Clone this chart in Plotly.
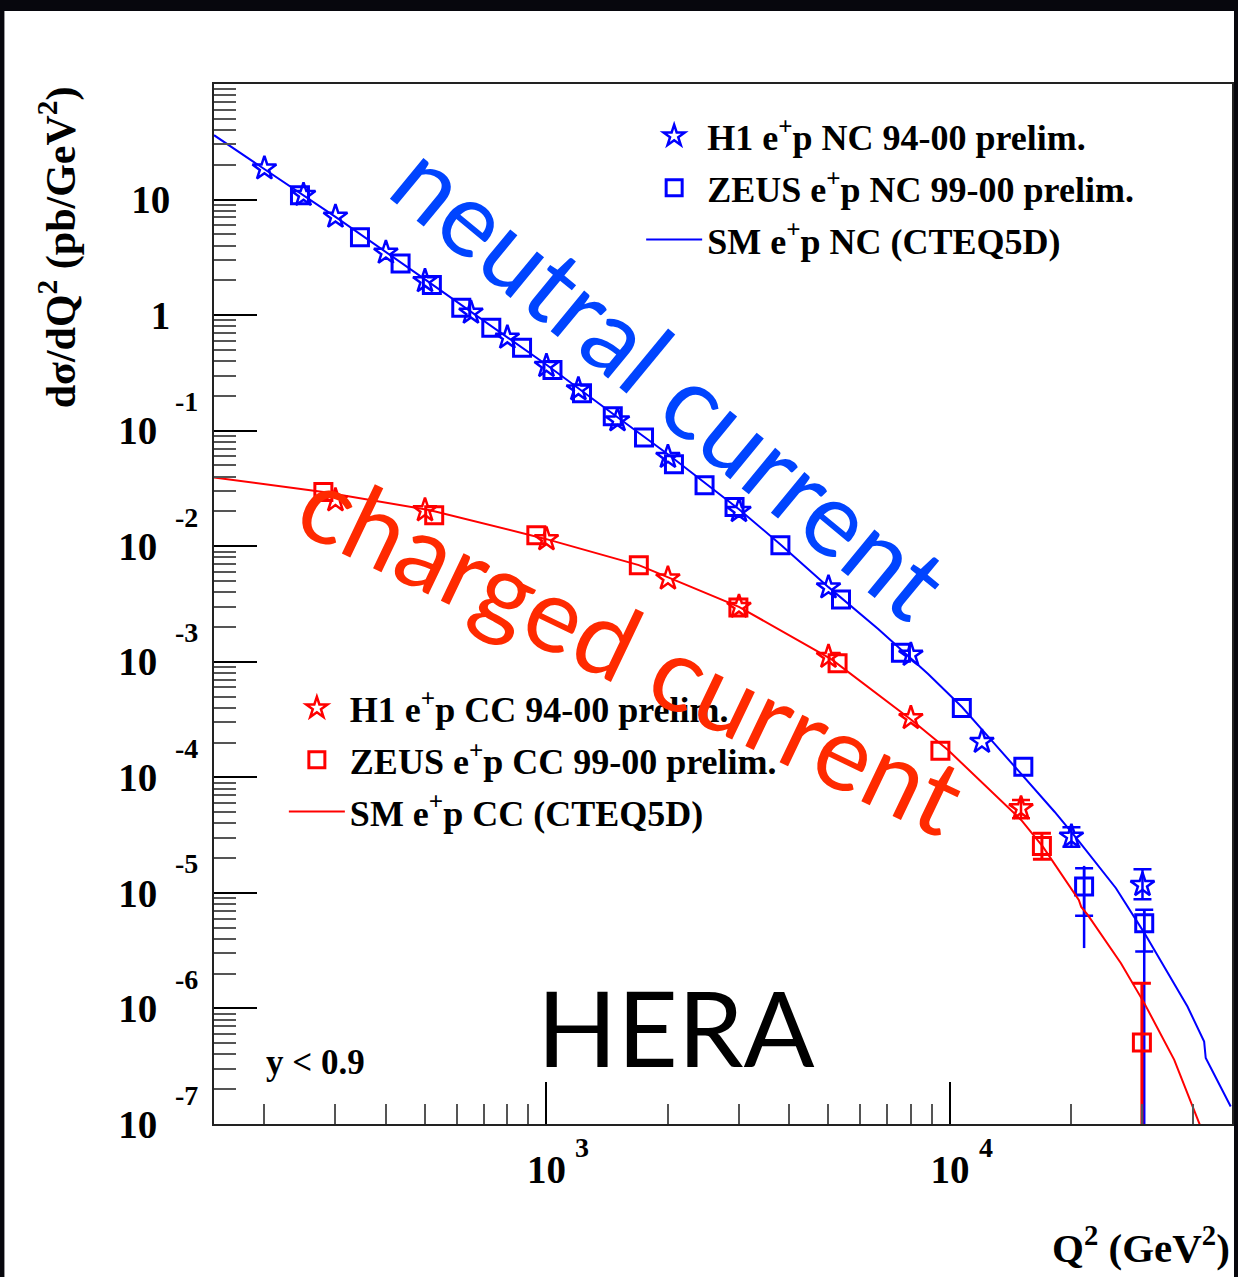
import plotly.graph_objects as go

# ---------------- measured cross sections dsigma/dQ2 (pb/GeV^2) ----------------
h1_nc_q2 = [200, 250, 300, 400, 500, 650, 800, 1000, 1200, 1500, 2000, 3000,
            5000, 8000, 12000, 20000, 30000]
h1_nc_xs = [18.6, 10.97, 7.11, 3.47, 1.97, 1.05, 0.639, 0.363, 0.228, 0.123,
            0.0593, 0.0202, 0.0044, 0.00115, 2.03e-4, 3.07e-5, 1.17e-5]

zeus_nc_q2 = [245, 345, 435, 520, 615, 730, 870, 1035, 1225, 1460, 1745, 2070,
              2465, 2925, 3800, 5370, 7560, 10700, 15200, 21500, 30300]
zeus_nc_xs = [10.9, 4.73, 2.80, 1.82, 1.16, 0.779, 0.523, 0.335, 0.211, 0.133,
              0.0872, 0.0513, 0.0337, 0.0219, 0.0102, 0.00346, 0.0012, 3.98e-4,
              1.236e-4, 1.133e-5, 5.47e-6]

h1_cc_q2 = [300, 500, 1000, 2000, 3000, 5000, 8000, 15000]
h1_cc_xs = [0.0250, 0.0205, 0.0115, 0.00526, 0.00299, 0.001105, 3.26e-4, 5.40e-5]

zeus_cc_q2 = [280, 527, 944, 1694, 2990, 5266, 9469, 16900, 29900]
zeus_cc_xs = [0.0295, 0.01857, 0.01246, 0.00686, 0.00295, 9.69e-4, 1.70e-4,
              2.55e-5, 5.07e-7]

# error bars on the high-Q2 points (index into the arrays above)
h1_nc_err_idx = [15, 16]
h1_nc_stat_up = [0.63e-5, 0.43e-5]
h1_nc_stat_dn = [0.56e-5, 0.29e-5]

zeus_nc_err_idx = [19, 20]
zeus_nc_stat_up = [0.50e-5, 1.66e-6]
zeus_nc_stat_dn = [0.50e-5, 2.36e-6]
zeus_nc_tot_up = [0.58e-5, 1.66e-6]
zeus_nc_tot_dn = [0.80e-5, 5.47e-6]

h1_cc_err_idx = [7]
h1_cc_stat_up = [0.97e-5]
h1_cc_stat_dn = [0.98e-5]

zeus_cc_err_idx = [7, 8]
zeus_cc_stat_up = [0.73e-5, 1.148e-6]
zeus_cc_stat_dn = [0.595e-5, 5.07e-7]

# ---------------- Standard Model expectations (CTEQ5D) ----------------
sm_nc_q2 = [150, 200, 300, 500, 1000, 1500, 2000, 3000, 3820, 5000, 6640, 8830,
            10710, 12660, 18160, 20740, 25790, 30310, 34610, 38780, 42650,
            43040, 49630]
sm_nc_xs = [36.07, 18.40, 7.08, 2.04, 0.3715, 0.1306, 0.0625, 0.02091, 0.01021,
            0.004426, 0.001918, 7.83e-4, 4.06e-4, 2.10e-4, 5.04e-5, 2.87e-5,
            1.097e-5, 4.51e-6, 2.02e-6, 1.039e-6, 5.17e-7, 3.72e-7, 1.418e-7]

sm_cc_q2 = [150, 280, 515, 1000, 1694, 3000, 5090, 8030, 9890, 12420, 15010,
            16990, 19960, 20860, 21150, 21950, 26530, 30310, 35960, 41460, 44720]
sm_cc_xs = [0.03933, 0.02952, 0.02050, 0.01151, 0.006859, 0.002990, 0.001049,
            3.13e-4, 1.723e-4, 8.04e-5, 4.28e-5, 2.513e-5, 1.098e-5, 8.70e-6,
            7.56e-6, 6.45e-6, 2.465e-6, 1.112e-6, 3.59e-7, 1.019e-7, 4.91e-8]

# ---------------- axis ticks ----------------
x_major = [1000, 10000]
x_major_text = ["10", "10"]
x_exponents = [3, 4]
x_minor = [m * 100 for m in range(2, 10)] + [m * 1000 for m in range(2, 10)] + \
          [m * 10000 for m in range(2, 5)]

y_decades = [-7, -6, -5, -4, -3, -2, -1, 0, 1]
y_minor = [m * 10.0 ** d for d in range(-7, 2) for m in range(2, 10)]

SERIF = "Liberation Serif"
SANS = "Lato"
BLUE = "#0000ff"
RED = "#ff0000"

W, H = 1238, 1277
ML, MR, MT, MB = 214, 4, 84, 153
PW, PH = W - ML - MR, H - MT - MB


def px_x(p):
    return (p - ML) / PW


def px_y(p):
    return 1 - (p - MT) / PH


fig = go.Figure()


def add_errors(q2, xs, idx, up, dn, color, cap, thick=2.5):
    fig.add_trace(go.Scatter(
        x=[q2[i] for i in idx], y=[xs[i] for i in idx],
        mode="markers", marker=dict(size=1, color="rgba(0,0,0,0)"),
        error_y=dict(type="data", symmetric=False, array=up, arrayminus=dn,
                     color=color, thickness=thick, width=cap),
        showlegend=False, hoverinfo="skip"))


# total (no caps) then statistical (capped) uncertainties
add_errors(zeus_nc_q2, zeus_nc_xs, zeus_nc_err_idx, zeus_nc_tot_up, zeus_nc_tot_dn, BLUE, 0)
add_errors(zeus_nc_q2, zeus_nc_xs, zeus_nc_err_idx, zeus_nc_stat_up, zeus_nc_stat_dn, BLUE, 9)
add_errors(h1_nc_q2, h1_nc_xs, h1_nc_err_idx, h1_nc_stat_up, h1_nc_stat_dn, BLUE, 9)
add_errors(h1_cc_q2, h1_cc_xs, h1_cc_err_idx, h1_cc_stat_up, h1_cc_stat_dn, RED, 9)
add_errors(zeus_cc_q2, zeus_cc_xs, zeus_cc_err_idx, zeus_cc_stat_up, zeus_cc_stat_dn, RED, 9, 3)

# neutral current
fig.add_trace(go.Scatter(
    x=h1_nc_q2, y=h1_nc_xs, mode="markers", name="H1 e<sup>+</sup>p NC 94-00 prelim.",
    marker=dict(symbol="star-open", size=18, color=BLUE, line=dict(width=2.5, color=BLUE)),
    legend="legend", legendgroup="a"))
fig.add_trace(go.Scatter(
    x=zeus_nc_q2, y=zeus_nc_xs, mode="markers", name="ZEUS e<sup>+</sup>p NC 99-00 prelim.",
    marker=dict(symbol="square-open", size=17, color=BLUE, line=dict(width=3, color=BLUE)),
    legend="legend", legendgroup="b"))
fig.add_trace(go.Scatter(
    x=sm_nc_q2, y=sm_nc_xs, mode="lines", name="SM e<sup>+</sup>p NC (CTEQ5D)",
    line=dict(color=BLUE, width=2), legend="legend", legendgroup="c"))

# charged current
fig.add_trace(go.Scatter(
    x=h1_cc_q2, y=h1_cc_xs, mode="markers", name="H1 e<sup>+</sup>p CC 94-00 prelim.",
    marker=dict(symbol="star-open", size=18, color=RED, line=dict(width=2.5, color=RED)),
    legend="legend2", legendgroup="d"))
fig.add_trace(go.Scatter(
    x=zeus_cc_q2, y=zeus_cc_xs, mode="markers", name="ZEUS e<sup>+</sup>p CC 99-00 prelim.",
    marker=dict(symbol="square-open", size=17, color=RED, line=dict(width=3, color=RED)),
    legend="legend2", legendgroup="e"))
fig.add_trace(go.Scatter(
    x=sm_cc_q2, y=sm_cc_xs, mode="lines", name="SM e<sup>+</sup>p CC (CTEQ5D)",
    line=dict(color=RED, width=2), legend="legend2", legendgroup="f"))

tick_font = dict(family=SERIF, size=39, color="black", weight="bold")
# mantissa of the exponent labels sits a little left of the plain "1"/"10"
y_text = []
for d in y_decades:
    if d == 0:
        y_text.append("1")
    elif d == 1:
        y_text.append("10")
    else:
        y_text.append("10\u2004")

fig.update_xaxes(
    type="log", range=[2.1761, 4.69897],
    tickmode="array", tickvals=x_major, ticktext=x_major_text,
    ticks="inside", ticklen=42, tickwidth=1.5, tickcolor="black",
    minor=dict(tickmode="array", tickvals=x_minor, ticks="inside", ticklen=20,
               tickwidth=1.5, tickcolor="#555555", showgrid=False),
    showline=True, linecolor="#222222", linewidth=2, mirror=True,
    showgrid=False, zeroline=False, tickfont=tick_font, ticklabelstandoff=10)

fig.update_yaxes(
    type="log", range=[-7, 2],
    tickmode="array", tickvals=[10.0 ** d for d in y_decades], ticktext=y_text,
    ticks="inside", ticklen=43, tickwidth=1.5, tickcolor="black",
    minor=dict(tickmode="array", tickvals=y_minor, ticks="inside", ticklen=22,
               tickwidth=1.5, tickcolor="#555555", showgrid=False),
    showline=True, linecolor="#222222", linewidth=2, mirror=True,
    showgrid=False, zeroline=False, tickfont=tick_font, ticklabelstandoff=34)

annotations = []
exp_font = dict(family=SERIF, size=28, color="black", weight="bold")
for d in y_decades:
    if d < 0:
        annotations.append(dict(
            text=str(d), xref="paper", yref="y", x=px_x(186), y=d, yshift=29,
            xanchor="center", yanchor="middle", showarrow=False, font=exp_font))
for v, e in zip(x_major, x_exponents):
    annotations.append(dict(
        text=str(e), xref="x", yref="paper", x=len(str(v)) - 1, xshift=36,
        y=px_y(1147), xanchor="center", yanchor="middle", showarrow=False,
        font=exp_font))

title_font = dict(family=SERIF, size=42, color="black", weight="bold")
annotations += [
    dict(text="d\u03c3/dQ<sup>2</sup> (pb/GeV<sup>2</sup>)", textangle=-90,
         xref="paper", yref="paper", x=px_x(58), y=1.0, xanchor="center",
         yanchor="top", showarrow=False, font=title_font),
    dict(text="Q<sup>2</sup> (GeV<sup>2</sup>)", xref="paper", yref="paper",
         x=px_x(1234), y=px_y(1245), xanchor="right", yanchor="middle",
         showarrow=False, font=dict(family=SERIF, size=41, color="black", weight="bold")),
    dict(text="y &lt; 0.9", xref="paper", yref="paper", x=px_x(264),
         y=px_y(1062), xanchor="left", yanchor="middle", showarrow=False,
         font=dict(family=SERIF, size=35, color="black", weight="bold")),
    dict(text="HERA", xref="paper", yref="paper", x=px_x(677), y=px_y(1026),
         xanchor="center", yanchor="middle", showarrow=False,
         font=dict(family=SANS, size=105, color="black")),
    dict(text="neutral current", xref="paper", yref="paper", x=px_x(673),
         y=px_y(378), xanchor="center", yanchor="middle", textangle=39.5,
         showarrow=False, font=dict(family=SANS, size=104, color="#0044ff")),
    dict(text="charged current", xref="paper", yref="paper", x=px_x(634),
         y=px_y(647), xanchor="center", yanchor="middle", textangle=25.5,
         showarrow=False, font=dict(family=SANS, size=104, color="#ff2a00")),
]

legend_font = dict(family=SERIF, size=36, color="black", weight="bold")
fig.update_layout(
    width=W, height=H,
    margin=dict(l=ML, r=MR, t=MT, b=MB, pad=0),
    paper_bgcolor="#07070d", plot_bgcolor="white",
    showlegend=True,
    legend=dict(x=px_x(642), y=px_y(106), xanchor="left", yanchor="top",
                bgcolor="rgba(0,0,0,0)", borderwidth=0, font=legend_font,
                itemwidth=56, traceorder="grouped", tracegroupgap=2),
    legend2=dict(x=px_x(284), y=px_y(678), xanchor="left", yanchor="top",
                 bgcolor="rgba(0,0,0,0)", borderwidth=0, font=legend_font,
                 itemwidth=56, traceorder="grouped", tracegroupgap=2),
    annotations=annotations,
    shapes=[dict(type="rect", xref="paper", yref="paper", layer="below",
                 x0=px_x(4), x1=px_x(1236), y0=px_y(H + 5), y1=px_y(11),
                 fillcolor="white", line=dict(width=0))],
)

fig.write_html("out.html")
